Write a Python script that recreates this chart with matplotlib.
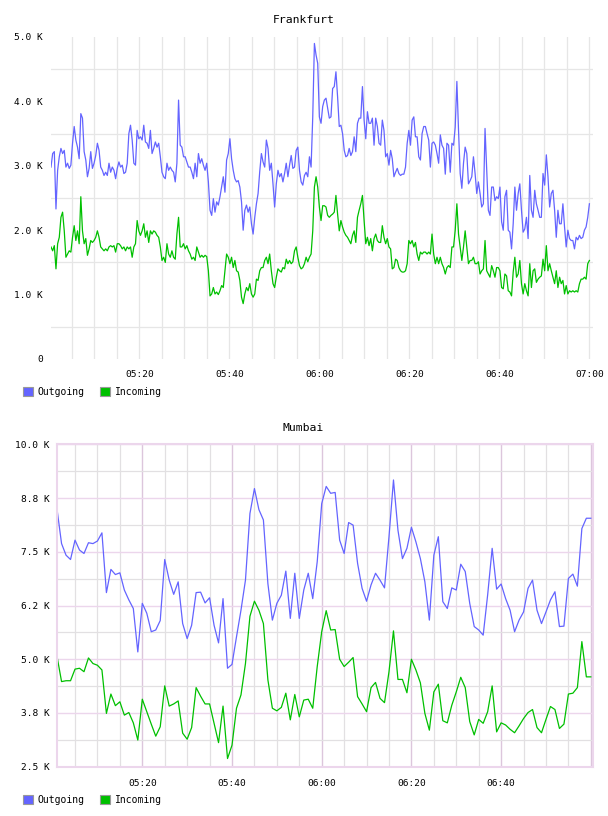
import matplotlib
matplotlib.use('Agg')
import matplotlib.pyplot as plt
import matplotlib.dates as mdates
from matplotlib.patches import Patch
import pandas as pd

plt.rcParams['font.family'] = ['DejaVu Sans Mono', 'DejaVu Sans']

# ---- data (values in K) ----
fr_start, fr_end = '2024-01-01 05:00:23', '2024-01-01 07:00:00'
fr_outgoing = [
    2.98, 3.19, 3.22, 2.33, 2.93, 3.14, 3.27, 3.19, 3.24, 2.98,
    3.04, 2.96, 3.01, 3.35, 3.61, 3.40, 3.29, 3.11, 3.81, 3.74,
    3.22, 3.09, 2.83, 2.96, 3.22, 2.96, 3.04, 3.16, 3.35, 3.24,
    2.98, 2.93, 2.85, 2.90, 2.85, 3.04, 2.90, 2.98, 2.93, 2.80,
    2.96, 3.06, 2.98, 3.01, 2.88, 2.90, 3.04, 3.50, 3.63, 3.40,
    3.04, 3.01, 3.55, 3.42, 3.45, 3.40, 3.63, 3.37, 3.35, 3.27,
    3.55, 3.19, 3.27, 3.37, 3.29, 3.35, 3.14, 2.90, 2.83, 2.80,
    3.04, 2.93, 2.98, 2.93, 2.90, 2.75, 3.04, 4.02, 3.32,
    3.29, 3.14, 3.14, 3.06, 2.98, 2.98, 2.90, 2.80, 3.04, 2.83,
    3.19, 3.04, 3.11, 3.01, 2.93, 3.04, 2.75, 2.31, 2.23, 2.49,
    2.28, 2.44, 2.39, 2.52, 2.67, 2.83, 2.59, 3.09, 3.19, 3.42,
    3.11, 2.93, 2.80, 2.75, 2.77, 2.67, 2.44, 2.00, 2.31, 2.39,
    2.28, 2.36, 2.10, 1.94, 2.20, 2.41, 2.57, 2.91, 3.19, 3.06,
    2.98, 3.40, 3.27, 2.93, 3.04, 2.72, 2.36, 2.72, 2.93, 2.83,
    2.88, 2.75, 2.88, 3.04, 2.83, 3.01, 3.16, 2.96, 2.98, 3.24,
    3.29, 2.93, 2.75, 2.70, 2.85, 2.90, 2.83, 3.14, 2.98, 3.76,
    4.90, 4.72,
    4.59, 3.76, 3.66, 3.92, 4.02, 4.05, 3.89, 3.74, 3.76, 4.20,
    4.23, 4.46, 4.07, 3.61, 3.63, 3.50, 3.24, 3.14, 3.16, 3.27,
    3.16, 3.22, 3.45, 3.22, 3.66, 3.74, 3.74, 4.23, 3.71, 3.42,
    3.84, 3.66, 3.66, 3.74, 3.32, 3.74, 3.61, 3.35, 3.32, 3.71,
    3.55, 3.14, 3.19, 3.01, 3.24, 3.11, 2.83, 2.90, 2.96, 2.88,
    2.85, 2.87, 2.87, 2.98, 3.35, 3.55, 3.32, 3.71, 3.76, 3.45,
    3.45, 3.14, 3.09, 3.50, 3.61, 3.61, 3.50, 3.40, 2.98, 3.35,
    3.37, 3.32, 3.19, 3.04, 3.48, 3.32, 3.27, 2.87, 3.35, 3.32,
    2.90, 3.35, 3.32,
    3.60,
    4.31, 3.55, 2.88, 2.65, 3.04, 3.29, 3.19, 2.72, 2.77, 2.83,
    3.14, 2.88, 2.57, 2.75, 2.57, 2.36, 2.41, 3.58, 2.93, 2.31,
    2.23, 2.67, 2.67, 2.46, 2.52, 2.49, 2.67, 2.13, 2.00, 2.52,
    2.62, 2.00, 1.97, 1.71, 2.10, 2.67, 2.31, 2.57, 2.72, 2.31,
    1.97, 2.02, 2.20, 1.87, 2.85, 2.31, 2.20, 2.62, 2.41, 2.31,
    2.20, 2.20, 2.88, 2.70, 3.17, 2.83, 2.36, 2.57, 2.62, 2.31,
    1.89, 2.31, 2.10, 2.10, 2.41, 2.05, 1.74, 2.00, 1.87, 1.84,
    1.84, 1.71, 1.89, 1.85, 1.92, 1.87, 1.89, 2.00, 2.05, 2.20,
    2.41,
]
fr_incoming = [
    1.74, 1.68, 1.76, 1.40, 1.79, 1.89, 2.20, 2.28, 1.99, 1.58,
    1.63, 1.68, 1.66, 1.89, 2.07, 1.84, 1.99, 1.79, 2.52, 1.99,
    1.79, 1.87, 1.61, 1.71, 1.84, 1.81, 1.84, 1.89, 1.99, 1.89,
    1.74, 1.71, 1.68, 1.71, 1.68, 1.74, 1.76, 1.74, 1.76, 1.66,
    1.79, 1.79, 1.76, 1.71, 1.74, 1.68, 1.74, 1.71, 1.74, 1.58,
    1.74, 1.79, 2.15, 1.99, 1.92, 1.99, 2.10, 1.89, 1.99, 1.81,
    1.99, 1.94, 1.99, 1.97, 1.92, 1.89, 1.74, 1.53, 1.58, 1.50,
    1.79, 1.63, 1.58, 1.68, 1.58, 1.55, 1.94, 2.20, 1.74,
    1.74, 1.79, 1.71, 1.76, 1.68, 1.63, 1.55, 1.58, 1.53, 1.74,
    1.66, 1.58, 1.61, 1.58, 1.61, 1.59, 1.37, 0.98, 1.01, 1.11,
    1.01, 1.04, 1.00, 1.06, 1.14, 1.11, 1.37, 1.63, 1.58, 1.48,
    1.58, 1.42, 1.53, 1.37, 1.35, 1.22, 0.96, 0.86, 1.01, 1.11,
    1.06, 1.17, 1.01, 0.96, 1.01, 1.24, 1.22, 1.37, 1.42, 1.42,
    1.53, 1.58, 1.48, 1.63, 1.37, 1.17, 1.11, 1.27, 1.40, 1.37,
    1.35, 1.42, 1.40, 1.55, 1.48, 1.53, 1.48, 1.51, 1.68, 1.74,
    1.58, 1.45, 1.40, 1.42, 1.48, 1.58, 1.51, 1.58, 1.63, 1.99,
    2.67, 2.83,
    2.67, 2.36, 2.15, 2.38, 2.38, 2.36, 2.23, 2.20, 2.23, 2.25,
    2.28, 2.54, 2.25, 1.99, 2.15, 2.05, 1.97, 1.92, 1.89, 1.84,
    1.79, 1.92, 1.99, 1.81, 2.20, 2.31, 2.41, 2.54, 2.15, 1.79,
    1.89, 1.76, 1.87, 1.68, 1.87, 1.94, 1.84, 1.81, 1.81, 2.07,
    1.89, 1.79, 1.87, 1.74, 1.71, 1.40, 1.42, 1.55, 1.53, 1.42,
    1.37, 1.35, 1.35, 1.37, 1.48, 1.84, 1.79, 1.84, 1.74, 1.81,
    1.63, 1.53, 1.66, 1.63, 1.66, 1.66, 1.63, 1.66, 1.63, 1.94,
    1.63, 1.48, 1.58, 1.48, 1.58, 1.48, 1.42, 1.32, 1.42, 1.45,
    1.42, 1.74, 1.74,
    2.00,
    2.41, 1.94, 1.74, 1.53, 1.74, 1.99, 1.74, 1.48, 1.53, 1.53,
    1.58, 1.48, 1.48, 1.51, 1.32, 1.37, 1.40, 1.84, 1.37, 1.32,
    1.27, 1.45, 1.37, 1.27, 1.42, 1.42, 1.37, 1.11, 1.09, 1.32,
    1.29, 1.06, 1.04, 0.98, 1.35, 1.58, 1.27, 1.32, 1.53, 1.17,
    1.01, 1.17, 1.06, 0.98, 1.48, 1.11, 1.37, 1.40, 1.19, 1.24,
    1.27, 1.29, 1.55, 1.37, 1.76, 1.37, 1.48, 1.37, 1.27, 1.17,
    1.37, 1.11, 1.27, 1.17, 1.22, 1.01, 1.14, 1.01, 1.06, 1.04,
    1.06, 1.04, 1.06, 1.04, 1.17, 1.24, 1.24, 1.27, 1.24, 1.48,
    1.53,
]
fr_ticks = [0, 1, 2, 3, 4, 5]
fr_tick_labels = ['0', '1.0 K', '2.0 K', '3.0 K', '4.0 K', '5.0 K']

mb_start, mb_end = '2024-01-01 05:01:00', '2024-01-01 07:00:00'
mb_outgoing = [
    8.48, 7.69, 7.42, 7.32, 7.77, 7.54, 7.46, 7.71, 7.69, 7.75,
    7.94, 6.55, 7.09, 6.97, 7.01, 6.61, 6.38, 6.18, 5.17, 6.30,
    6.07, 5.64, 5.68, 5.90, 7.32, 6.84, 6.51, 6.80, 5.83, 5.48,
    5.79, 6.55, 6.56, 6.31, 6.43, 5.79, 5.38, 6.41, 4.79, 4.88,
    5.52, 6.14, 6.84, 8.39, 8.97, 8.48, 8.24, 6.76, 5.91, 6.30,
    6.49, 7.05, 5.95, 7.00, 5.95, 6.61, 7.00, 6.41, 7.27, 8.62,
    9.02, 8.86, 8.88, 7.77, 7.46, 8.18, 8.12, 7.23, 6.65, 6.35,
    6.73, 7.00, 6.84, 6.66, 7.85, 9.17, 8.00, 7.34, 7.58, 8.07,
    7.73, 7.34, 6.80, 5.91, 7.42, 7.85, 6.34, 6.18, 6.66, 6.61,
    7.21, 7.04, 6.30, 5.76, 5.68, 5.56, 6.50, 7.58, 6.63, 6.75,
    6.41, 6.14, 5.64, 5.91, 6.10, 6.65, 6.84, 6.14, 5.83, 6.10,
    6.38, 6.57, 5.76, 5.77, 6.88, 6.98, 6.70, 8.04, 8.28, 8.28,
]
mb_incoming = [
    5.06, 4.48, 4.50, 4.50, 4.77, 4.79, 4.71, 5.03, 4.90, 4.86,
    4.75, 3.74, 4.19, 3.92, 4.01, 3.70, 3.76, 3.52, 3.12, 4.07,
    3.78, 3.49, 3.21, 3.43, 4.38, 3.91, 3.96, 4.03, 3.28, 3.14,
    3.41, 4.34, 4.14, 3.96, 3.96, 3.51, 3.06, 3.91, 2.69, 3.00,
    3.86, 4.17, 4.90, 6.00, 6.35, 6.14, 5.83, 4.52, 3.86, 3.80,
    3.88, 4.21, 3.59, 4.18, 3.66, 4.05, 4.07, 3.86, 4.83, 5.64,
    6.13, 5.68, 5.69, 5.00, 4.83, 4.93, 5.04, 4.13, 3.96, 3.78,
    4.34, 4.46, 4.09, 3.99, 4.71, 5.66, 4.53, 4.53, 4.22, 5.00,
    4.75, 4.45, 3.74, 3.35, 4.24, 4.42, 3.57, 3.52, 3.93, 4.24,
    4.58, 4.34, 3.55, 3.24, 3.60, 3.51, 3.78, 4.38, 3.31, 3.52,
    3.47, 3.37, 3.29, 3.45, 3.62, 3.76, 3.83, 3.41, 3.29, 3.60,
    3.90, 3.83, 3.39, 3.49, 4.19, 4.21, 4.34, 5.41, 4.59, 4.59,
]
mb_ticks = [2.5, 3.75, 5.0, 6.25, 7.5, 8.75, 10.0]
mb_tick_labels = ['2.5 K', '3.8 K', '5.0 K', '6.2 K', '7.5 K', '8.8 K', '10.0 K']

series_names = ['Outgoing', 'Incoming']
blue, green = '#6464ff', '#00c000'
W, H = 608, 816

fig = plt.figure(figsize=(W / 100, H / 100), dpi=100)


def legend_at(y_px):
    handles = [Patch(facecolor=blue, edgecolor='#999999', lw=0.8),
               Patch(facecolor=green, edgecolor='#999999', lw=0.8)]
    fig.legend(handles, series_names, loc='center left',
               bbox_to_anchor=(23 / W, 1 - y_px / H), frameon=False, ncol=2,
               borderaxespad=0, borderpad=0, handlelength=1.0, handleheight=1.0,
               handletextpad=0.5, columnspacing=1.6, prop={'size': 7})


# ---- Frankfurt ----
ax1 = fig.add_axes([51 / W, 1 - 359 / H, 542 / W, 322 / H])
t1 = pd.date_range(fr_start, fr_end, periods=len(fr_outgoing))
ax1.plot(t1, fr_outgoing, color=blue, lw=0.9)
ax1.plot(t1, fr_incoming, color=green, lw=0.9)
ax1.set_xlim(pd.Timestamp('2024-01-01 05:00:23'), pd.Timestamp('2024-01-01 07:00:48'))
ax1.set_ylim(0, 5)
ax1.set_yticks(fr_ticks)
ax1.set_yticklabels(fr_tick_labels)
ax1.set_yticks([0.5, 1.5, 2.5, 3.5, 4.5], minor=True)
ax1.xaxis.set_major_locator(mdates.MinuteLocator(byminute=[0, 20, 40]))
ax1.xaxis.set_major_formatter(mdates.DateFormatter('%H:%M'))
ax1.xaxis.set_minor_locator(mdates.MinuteLocator(byminute=range(0, 60, 5)))
ax1.grid(True, which='minor', color='#e6e6e6', lw=0.9)
ax1.grid(True, which='major', axis='x', color='#e6e6e6', lw=0.9)
ax1.set_axisbelow(True)
for s in ax1.spines.values():
    s.set_visible(False)
ax1.tick_params(which='both', length=0, labelsize=6.8)
ax1.tick_params(axis='y', pad=6)
ax1.tick_params(axis='x', pad=8)
fig.text(304 / W, 1 - 20 / H, 'Frankfurt', ha='center', va='center', fontsize=8.2)
legend_at(392)

# ---- Mumbai ----
pink, purple, grid_minor = '#ecd6ec', '#dcc6dc', '#e2e0e2'
ax2 = fig.add_axes([56.7 / W, 1 - 766.7 / H, 536.6 / W, 322.4 / H])
t2 = pd.date_range(mb_start, mb_end, periods=len(mb_outgoing))
ax2.plot(t2, mb_outgoing, color=blue, lw=0.9)
ax2.plot(t2, mb_incoming, color=green, lw=0.9)
ax2.set_xlim(pd.Timestamp('2024-01-01 05:00:55'), pd.Timestamp('2024-01-01 07:00:33'))
ax2.set_ylim(2.5, 10.0)
ax2.set_yticks(mb_ticks)
ax2.set_yticklabels(mb_tick_labels)
ax2.set_yticks([3.125, 4.375, 5.625, 6.875, 8.125, 9.375], minor=True)
ax2.xaxis.set_major_locator(mdates.MinuteLocator(byminute=[0, 20, 40]))
ax2.xaxis.set_major_formatter(mdates.DateFormatter('%H:%M'))
ax2.xaxis.set_minor_locator(mdates.MinuteLocator(byminute=[5, 10, 15, 25, 30, 35, 45, 50, 55]))
ax2.grid(True, which='minor', color=grid_minor, lw=0.9)
ax2.grid(True, which='major', axis='y', color=pink, lw=1.0)
ax2.grid(True, which='major', axis='x', color=purple, lw=1.0)
ax2.set_axisbelow(True)
for s in ax2.spines.values():
    s.set_color(pink)
    s.set_linewidth(1.5)
ax2.tick_params(which='both', length=0, labelsize=6.8)
ax2.tick_params(axis='y', pad=5)
ax2.tick_params(axis='x', pad=9)
# hide the 07:00 label, which the reference does not show
for lbl, loc in zip(ax2.get_xticklabels(), ax2.get_xticks()):
    if mdates.num2date(loc).hour == 7:
        lbl.set_visible(False)
fig.text(303 / W, 1 - 428 / H, 'Mumbai', ha='center', va='center', fontsize=8.2)
legend_at(800)

fig.savefig('out.png', dpi=100)
